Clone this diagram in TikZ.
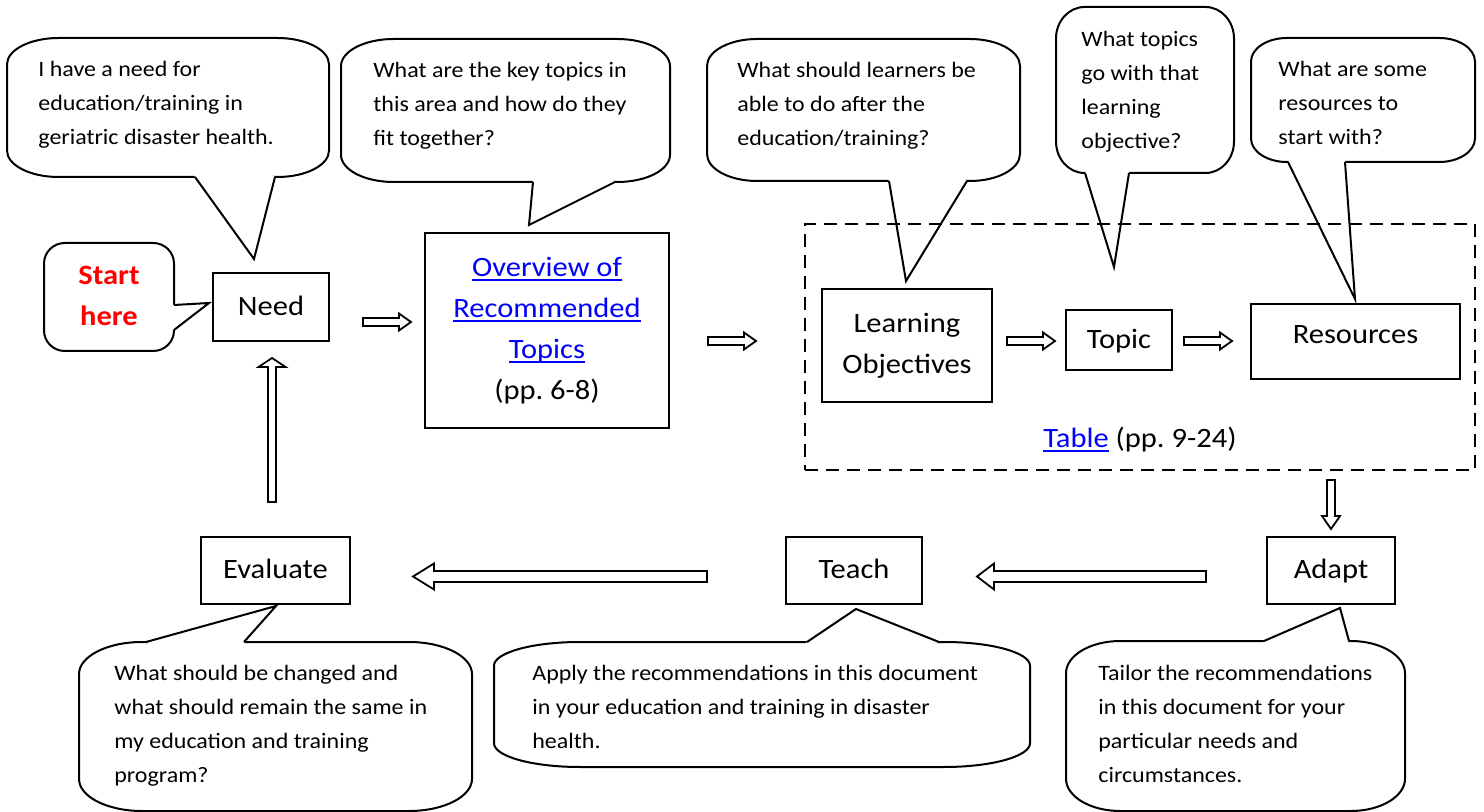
\documentclass[tikz,border=0pt]{standalone}
\usepackage{fontspec}
\setmainfont{Carlito}[FakeStretch=1.09]
\usetikzlibrary{calc}

\definecolor{linkblue}{RGB}{0,0,255}
\definecolor{startred}{RGB}{255,0,0}

\newcommand{\weblink}[1]{\textcolor{linkblue}{\setbox0\hbox{#1}\rlap{\rule[-2.1pt]{\wd0}{0.9pt}}\box0}}

% rounded speech bubble: corners (#1,#2) (#3,#4), tail from #5 to tip #6 back to #7
\newcommand{\callout}[7]{%
    \pgfmathsetmacro\rx{0.16*(#3-#1)}
    \pgfmathsetmacro\ry{0.19*(#4-#2)}
    \pgfmathsetmacro\kx{0.448*\rx}
    \pgfmathsetmacro\ky{0.448*\ry}
    \draw[bubble, fill=white] ({#1+\rx},#2) -- ({#3-\rx},#2)
        .. controls ({#3-\kx},#2) and (#3,{#2+\ky}) .. (#3,{#2+\ry}) -- (#3,{#4-\ry})
        .. controls (#3,{#4-\ky}) and ({#3-\kx},#4) .. ({#3-\rx},#4) -- ({#1+\rx},#4)
        .. controls ({#1+\kx},#4) and (#1,{#4-\ky}) .. (#1,{#4-\ry}) -- (#1,{#2+\ry})
        .. controls (#1,{#2+\ky}) and ({#1+\kx},#2) .. cycle;
    \fill[white] (#5) -- (#6) -- (#7) -- ({(#1+#3)/2},{(#2+#4)/2}) -- cycle;
    \draw[bubble] (#5) -- (#6) -- (#7);
}

% hollow block arrow from #1 to #2: shaft half width #3, head half width #4, head length #5
\newcommand{\hollowarrow}[5]{%
    \coordinate (hb) at ($(#2)!#5!(#1)$);
    \draw[hollow] ($(#1)!#3!90:(#2)$) -- ($(hb)!#3!-90:(#1)$) -- ($(hb)!#4!-90:(#1)$) -- (#2)
        -- ($(hb)!#4!90:(#1)$) -- ($(hb)!#3!90:(#1)$) -- ($(#1)!#3!-90:(#2)$) -- cycle;
}

\tikzset{
    bubble/.style={line width=1pt, line join=miter},
    say/.style={anchor=north west, inner sep=0pt, align=left, font=\fontsize{11}{17}\selectfont},
    box/.style={draw, line width=0.9pt, inner sep=0pt, font=\fontsize{14}{20.5}\selectfont},
    onebox/.style={box, text height=9.8pt, text depth=1.6pt},
    hollow/.style={draw, fill=white, line width=0.9pt, line join=miter}
}

\begin{document}
\begin{tikzpicture}[x=0.5pt, y=-0.5pt]
    \useasboundingbox (0,0) rectangle (1484,812);

    \callout{7}{38}{329}{177}{195,177}{254,259}{275,177}
    \node[say] (needq) at (38,52.2) {\strut I have a need for\\education/training in\\geriatric disaster health.};

    \callout{44}{243}{174}{351}{174,305}{209,303}{174,330}
    \node[anchor=north, inner sep=0pt, align=center, text=startred, font=\bfseries\fontsize{14}{20.5}\selectfont] (start) at (109,255.3) {\strut Start\\here};

    \callout{341}{39}{670}{182}{533,182}{529,225}{615,182}
    \node[say] (overviewq) at (373,53.2) {\strut What are the key topics in\\this area and how do they\\fit together?};

    \callout{707}{39}{1020}{181}{889,181}{906,281}{967,181}
    \node[say] (objectivesq) at (737,53.2) {\strut What should learners be\\able to do after the\\education/training?};

    \callout{1056}{7}{1234}{173}{1085,173}{1114,267}{1129,173}
    \node[say] (topicq) at (1081,22.2) {\strut What topics\\go with that\\learning\\objective?};

    \callout{1251}{38}{1475}{162}{1288,162}{1355,299}{1345,162}
    \node[say] (resourcesq) at (1278,52.2) {\strut What are some\\resources to\\start with?};

    \callout{79}{642}{472}{811}{146,642}{276,606}{244,642}
    \node[say] (evaluateq) at (114,656.2) {\strut What should be changed and\\what should remain the same in\\my education and training\\program?};

    \callout{494}{642}{1030}{767}{807,642}{856,609}{939,642}
    \node[say] (teachq) at (532,656.2) {\strut Apply the recommendations in this document\\in your education and training in disaster\\health.};

    \callout{1066}{641}{1405}{811}{1264,641}{1340,608}{1349,641}
    \node[say] (adaptq) at (1098,656.2) {\strut Tailor the recommendations\\in this document for your\\particular needs and\\circumstances.};

    \node[onebox, minimum width=58pt, minimum height=34pt] (need) at (271,307) {Need};
    \node[box, align=center, minimum width=122pt, minimum height=97.5pt] (overview) at (547,330.5)
        {\weblink{Overview of}\\\weblink{Recommended}\\\weblink{Topics}\\(pp.~6-8)};

    \node[draw, dash pattern=on 6.5pt off 4pt, line width=0.8pt, inner sep=0pt,
        minimum width=335pt, minimum height=123pt] (tablebox) at (1140,347) {};
    \node[box, align=center, minimum width=85pt, minimum height=56.5pt] (objectives) at (907,345.5) {Learning\\Objectives};
    \node[onebox, minimum width=53pt, minimum height=30pt] (topic) at (1119,340) {Topic};
    \node[onebox, text depth=8pt, minimum width=104.5pt, minimum height=37.5pt] (resources) at (1355.5,341.5) {Resources};
    \node[anchor=base, inner sep=0pt, font=\fontsize{14}{20.5}\selectfont] (tablelabel) at (1140,448) {\weblink{Table} (pp.~9-24)};

    \node[onebox, minimum width=74.5pt, minimum height=33.5pt] (evaluate) at (275.5,570.5) {Evaluate};
    \node[onebox, minimum width=68pt, minimum height=33.5pt] (teach) at (854,570.5) {Teach};
    \node[onebox, minimum width=64pt, minimum height=33.5pt] (adapt) at (1331,570.5) {Adapt};

    \coordinate (needout) at (363,322);   \coordinate (overviewin) at (411,322);
    \coordinate (overviewout) at (708,341); \coordinate (tablein) at (756,341);
    \coordinate (objout) at (1007,341);   \coordinate (topicin) at (1055,341);
    \coordinate (topicout) at (1184,341); \coordinate (resin) at (1232,341);
    \coordinate (tableout) at (1331,480); \coordinate (adaptin) at (1331,529);
    \coordinate (adaptout) at (1206,576.5); \coordinate (teachin) at (977,576.5);
    \coordinate (teachout) at (707,576.5);  \coordinate (evalin) at (413,576.5);
    \coordinate (evalout) at (272,502);   \coordinate (needin) at (272,358);

    \hollowarrow{needout}{overviewin}{2pt}{4.25pt}{6pt}
    \hollowarrow{overviewout}{tablein}{2pt}{4.25pt}{6pt}
    \hollowarrow{objout}{topicin}{2pt}{4.25pt}{6pt}
    \hollowarrow{topicout}{resin}{2pt}{4.25pt}{6pt}
    \hollowarrow{tableout}{adaptin}{2pt}{4.5pt}{6.5pt}
    \hollowarrow{adaptout}{teachin}{2.75pt}{6.5pt}{8.5pt}
    \hollowarrow{teachout}{evalin}{2.75pt}{6.5pt}{10.5pt}
    \hollowarrow{evalout}{needin}{2pt}{6.75pt}{4.5pt}
\end{tikzpicture}
\end{document}
